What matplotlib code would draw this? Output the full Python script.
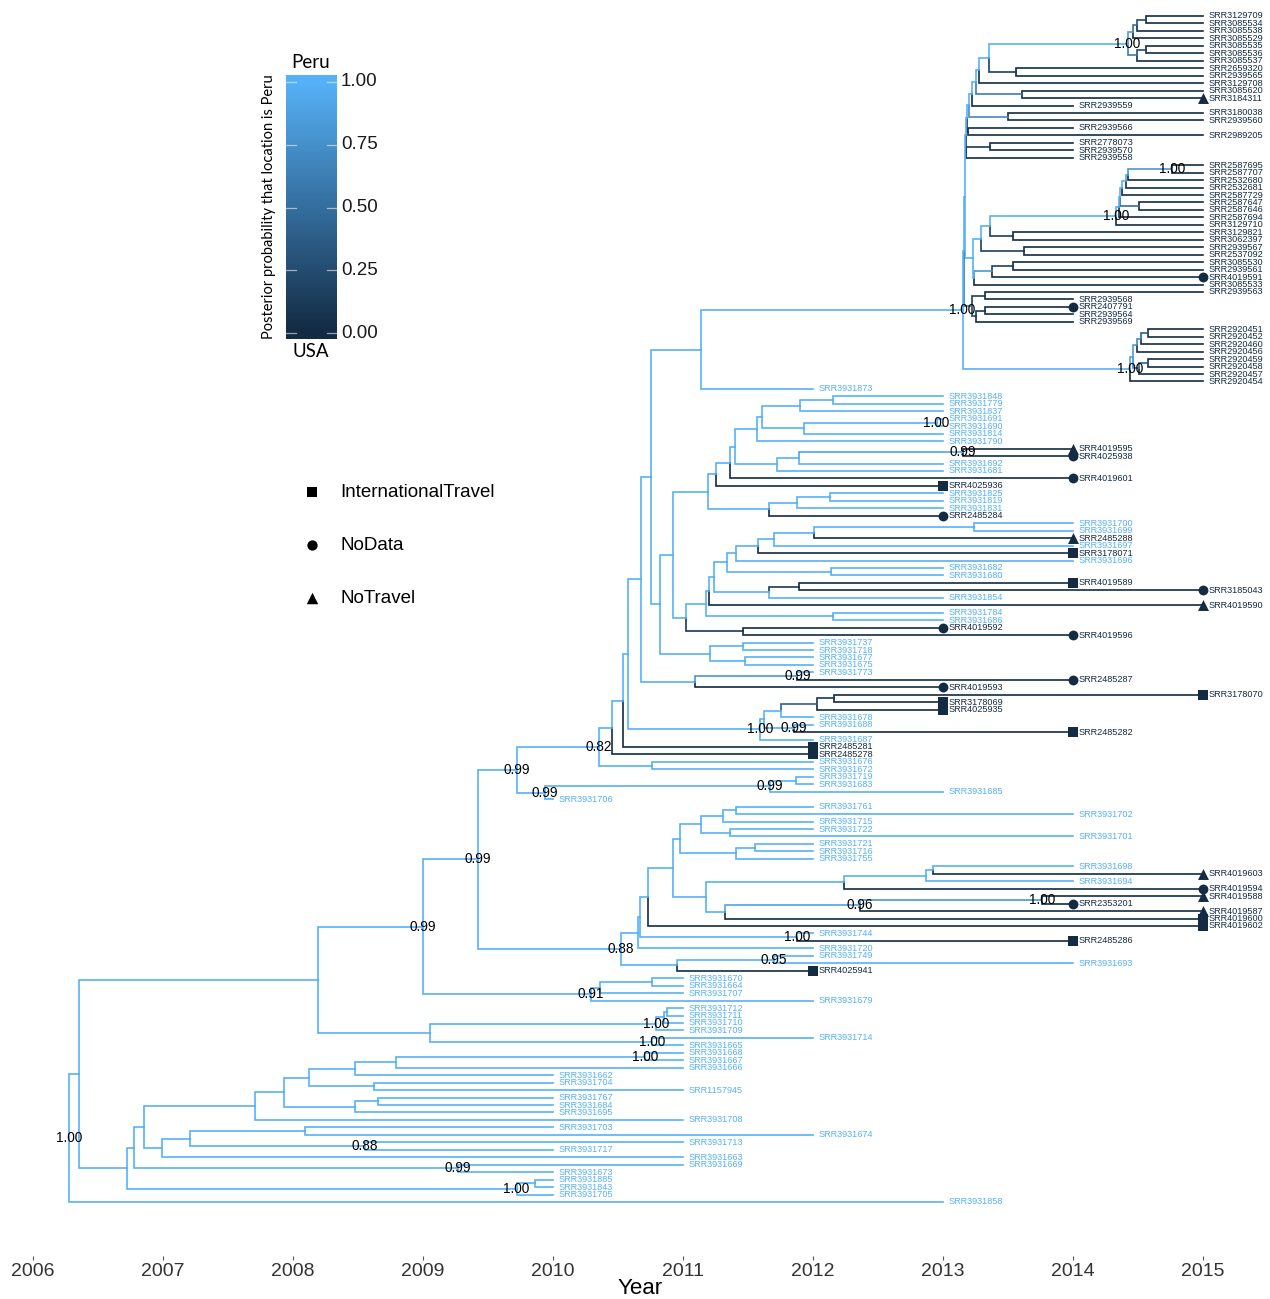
import matplotlib
matplotlib.use("Agg")
import matplotlib.pyplot as plt
from matplotlib.collections import LineCollection
from matplotlib.colors import LinearSegmentedColormap
import numpy as np

# ---------------- data ----------------
tip_labels = [
    "SRR3129709", "SRR3085534", "SRR3085538", "SRR3085529", "SRR3085535", "SRR3085536", "SRR3085537", "SRR2659320", "SRR2939565", "SRR3129708",
    "SRR3085620", "SRR3184311", "SRR2939559", "SRR3180038", "SRR2939560", "SRR2939566", "SRR2989205", "SRR2778073", "SRR2939570", "SRR2939558",
    "SRR2587695", "SRR2587707", "SRR2532680", "SRR2532681", "SRR2587729", "SRR2587647", "SRR2587646", "SRR2587694", "SRR3129710", "SRR3129821",
    "SRR3062397", "SRR2939567", "SRR2537092", "SRR3085530", "SRR2939561", "SRR4019591", "SRR3085533", "SRR2939563", "SRR2939568", "SRR2407791",
    "SRR2939564", "SRR2939569", "SRR2920451", "SRR2920452", "SRR2920460", "SRR2920456", "SRR2920459", "SRR2920458", "SRR2920457", "SRR2920454",
    "SRR3931873", "SRR3931848", "SRR3931779", "SRR3931837", "SRR3931691", "SRR3931690", "SRR3931814", "SRR3931790", "SRR4019595", "SRR4025938",
    "SRR3931692", "SRR3931681", "SRR4019601", "SRR4025936", "SRR3931825", "SRR3931819", "SRR3931831", "SRR2485284", "SRR3931700", "SRR3931699",
    "SRR2485288", "SRR3931697", "SRR3178071", "SRR3931696", "SRR3931682", "SRR3931680", "SRR4019589", "SRR3185043", "SRR3931854", "SRR4019590",
    "SRR3931784", "SRR3931686", "SRR4019592", "SRR4019596", "SRR3931737", "SRR3931718", "SRR3931677", "SRR3931675", "SRR3931773", "SRR2485287",
    "SRR4019593", "SRR3178070", "SRR3178069", "SRR4025935", "SRR3931678", "SRR3931688", "SRR2485282", "SRR3931687", "SRR2485281", "SRR2485278",
    "SRR3931676", "SRR3931672", "SRR3931719", "SRR3931683", "SRR3931685", "SRR3931706", "SRR3931761", "SRR3931702", "SRR3931715", "SRR3931722",
    "SRR3931701", "SRR3931721", "SRR3931716", "SRR3931755", "SRR3931698", "SRR4019603", "SRR3931694", "SRR4019594", "SRR4019588", "SRR2353201",
    "SRR4019587", "SRR4019600", "SRR4019602", "SRR3931744", "SRR2485286", "SRR3931720", "SRR3931749", "SRR3931693", "SRR4025941", "SRR3931670",
    "SRR3931664", "SRR3931707", "SRR3931679", "SRR3931712", "SRR3931711", "SRR3931710", "SRR3931709", "SRR3931714", "SRR3931665", "SRR3931668",
    "SRR3931667", "SRR3931666", "SRR3931662", "SRR3931704", "SRR1157945", "SRR3931767", "SRR3931684", "SRR3931695", "SRR3931708", "SRR3931703",
    "SRR3931674", "SRR3931713", "SRR3931717", "SRR3931663", "SRR3931669", "SRR3931673", "SRR3931885", "SRR3931843", "SRR3931705", "SRR3931858",
]

tip_years = [
    2015, 2015, 2015, 2015, 2015, 2015, 2015, 2015, 2015, 2015,
    2015, 2015, 2014, 2015, 2015, 2014, 2015, 2014, 2014, 2014,
    2015, 2015, 2015, 2015, 2015, 2015, 2015, 2015, 2015, 2015,
    2015, 2015, 2015, 2015, 2015, 2015, 2015, 2015, 2014, 2014,
    2014, 2014, 2015, 2015, 2015, 2015, 2015, 2015, 2015, 2015,
    2012, 2013, 2013, 2013, 2013, 2013, 2013, 2013, 2014, 2014,
    2013, 2013, 2014, 2013, 2013, 2013, 2013, 2013, 2014, 2014,
    2014, 2014, 2014, 2014, 2013, 2013, 2014, 2015, 2013, 2015,
    2013, 2013, 2013, 2014, 2012, 2012, 2012, 2012, 2012, 2014,
    2013, 2015, 2013, 2013, 2012, 2012, 2014, 2012, 2012, 2012,
    2012, 2012, 2012, 2012, 2013, 2010, 2012, 2014, 2012, 2012,
    2014, 2012, 2012, 2012, 2014, 2015, 2014, 2015, 2015, 2014,
    2015, 2015, 2015, 2012, 2014, 2012, 2012, 2014, 2012, 2011,
    2011, 2011, 2012, 2011, 2011, 2011, 2011, 2012, 2011, 2011,
    2011, 2011, 2010, 2010, 2011, 2010, 2010, 2010, 2011, 2010,
    2012, 2011, 2010, 2011, 2011, 2010, 2010, 2010, 2010, 2013,
]

# 1 = sampled in Peru, 0 = sampled in USA
tip_peru = [
    0, 0, 0, 0, 0, 0, 0, 0, 0, 0,
    0, 0, 0, 0, 0, 0, 0, 0, 0, 0,
    0, 0, 0, 0, 0, 0, 0, 0, 0, 0,
    0, 0, 0, 0, 0, 0, 0, 0, 0, 0,
    0, 0, 0, 0, 0, 0, 0, 0, 0, 0,
    1, 1, 1, 1, 1, 1, 1, 1, 0, 0,
    1, 1, 0, 0, 1, 1, 1, 0, 1, 1,
    0, 1, 0, 1, 1, 1, 0, 0, 1, 0,
    1, 1, 0, 0, 1, 1, 1, 1, 1, 0,
    0, 0, 0, 0, 1, 1, 0, 1, 0, 0,
    1, 1, 1, 1, 1, 1, 1, 1, 1, 1,
    1, 1, 1, 1, 1, 0, 1, 0, 0, 0,
    0, 0, 0, 1, 0, 1, 1, 1, 0, 1,
    1, 1, 1, 1, 1, 1, 1, 1, 1, 1,
    1, 1, 1, 1, 1, 1, 1, 1, 1, 1,
    1, 1, 1, 1, 1, 1, 1, 1, 1, 1,
]

tip_travel = {
    "SRR3184311": "NoTravel", "SRR4019591": "NoData", "SRR2407791": "NoData",
    "SRR4019595": "NoTravel", "SRR4025938": "NoData", "SRR4019601": "NoData",
    "SRR4025936": "InternationalTravel", "SRR2485284": "NoData", "SRR2485288": "NoTravel",
    "SRR3178071": "InternationalTravel", "SRR4019589": "InternationalTravel", "SRR3185043": "NoData",
    "SRR4019590": "NoTravel", "SRR4019592": "NoData", "SRR4019596": "NoData",
    "SRR2485287": "NoData", "SRR4019593": "NoData", "SRR3178070": "InternationalTravel",
    "SRR3178069": "InternationalTravel", "SRR4025935": "InternationalTravel", "SRR2485282": "InternationalTravel",
    "SRR2485281": "InternationalTravel", "SRR2485278": "InternationalTravel", "SRR4019603": "NoTravel",
    "SRR4019594": "NoData", "SRR4019588": "NoTravel", "SRR2353201": "NoData",
    "SRR4019587": "NoTravel", "SRR4019600": "InternationalTravel", "SRR4019602": "InternationalTravel",
    "SRR2485286": "InternationalTravel", "SRR4025941": "InternationalTravel",
}

# tree topology: internal node -> (child, child)
clade_children = {
    # top (USA) clade
    "CI": ("SRR3129709", "SRR3085534"), "CJ": ("CI", "SRR3085538"), "CK": ("CJ", "SRR3085529"),
    "CL": ("SRR3085535", "SRR3085536"), "CM": ("CL", "SRR3085537"), "CN": ("CK", "CM"),
    "CO": ("SRR2659320", "SRR2939565"), "CP": ("CN", "CO"), "CQ": ("CP", "SRR3129708"),
    "CR": ("SRR3085620", "SRR3184311"), "CS": ("CQ", "CR"), "CT": ("CS", "SRR2939559"),
    "CU": ("SRR3180038", "SRR2939560"), "CV": ("CT", "CU"), "CX": ("SRR2939566", "SRR2989205"),
    "CY": ("CV", "CX"), "CZ": ("SRR2778073", "SRR2939570"), "DAp": ("CZ", "SRR2939558"),
    "EH": ("CY", "DAp"),
    "DN": ("SRR2587695", "SRR2587707"), "DQ": ("DN", "SRR2532680"), "DR": ("DQ", "SRR2532681"),
    "DT": ("DR", "SRR2587729"), "DS": ("SRR2587647", "SRR2587646"), "DU": ("DT", "DS"),
    "DX": ("DU", "SRR2587694"), "DV": ("DX", "SRR3129710"), "DY": ("SRR3129821", "SRR3062397"),
    "DZ": ("DV", "DY"), "EA": ("SRR2939567", "SRR2537092"), "EB": ("DZ", "EA"),
    "EC": ("SRR3085530", "SRR2939561"), "ED": ("EC", "SRR4019591"), "EE": ("ED", "SRR3085533"),
    "EF": ("EB", "EE"), "X2": ("EH", "EF"),
    "DJ": ("SRR2939563", "SRR2939568"), "DK": ("SRR2407791", "SRR2939564"), "DL": ("DK", "SRR2939569"),
    "DM": ("DJ", "DL"), "Z2": ("X2", "DM"),
    "DB": ("SRR2920451", "SRR2920452"), "DC": ("DB", "SRR2920460"), "DD": ("DC", "SRR2920456"),
    "DE": ("SRR2920459", "SRR2920458"), "DF": ("DE", "SRR2920457"), "DG": ("DD", "DF"),
    "DH": ("DG", "SRR2920454"), "TOP": ("Z2", "DH"), "AU": ("TOP", "SRR3931873"),
    # middle clade
    "BG": ("SRR3931848", "SRR3931779"), "BH": ("BG", "SRR3931837"), "BI": ("SRR3931691", "SRR3931690"),
    "BJ": ("BI", "SRR3931814"), "BK": ("BH", "BJ"), "BL": ("BK", "SRR3931790"),
    "BM": ("SRR4019595", "SRR4025938"), "BN": ("BM", "SRR3931692"), "BO": ("BN", "SRR3931681"),
    "BP": ("BL", "BO"), "BQ": ("BP", "SRR4019601"), "BE": ("BQ", "SRR4025936"),
    "BR": ("SRR3931825", "SRR3931819"), "BS": ("BR", "SRR3931831"), "BF": ("BS", "SRR2485284"),
    "BC": ("BE", "BF"),
    "BW": ("SRR3931700", "SRR3931699"), "BX": ("BW", "SRR2485288"), "BY": ("BX", "SRR3931697"),
    "BZ": ("BY", "SRR3178071"), "CA": ("BZ", "SRR3931696"), "CB": ("SRR3931682", "SRR3931680"),
    "CC": ("CA", "CB"), "CD": ("SRR4019589", "SRR3185043"), "CE": ("CD", "SRR3931854"),
    "CF": ("CC", "CE"), "CG": ("CF", "SRR4019590"), "BV": ("SRR3931784", "SRR3931686"),
    "CH": ("CG", "BV"), "BT": ("SRR4019592", "SRR4019596"), "BD": ("CH", "BT"),
    "AY": ("BC", "BD"), "BA": ("SRR3931737", "SRR3931718"), "BB": ("SRR3931677", "SRR3931675"),
    "AZ": ("BA", "BB"), "AV": ("AY", "AZ"), "AT": ("AU", "AV"),
    "AX": ("SRR3931773", "SRR2485287"), "AW": ("AX", "SRR4019593"), "AN": ("AT", "AW"),
    "AP": ("SRR3178070", "SRR3178069"), "AQ": ("AP", "SRR4025935"), "AO": ("AQ", "SRR3931678"),
    "AR": ("SRR3931688", "SRR2485282"), "AMi": ("AO", "AR"), "AM": ("AMi", "SRR3931687"),
    "AL": ("AN", "AM"), "AK": ("AL", "SRR2485281"), "AI": ("AK", "SRR2485278"),
    "AJ": ("SRR3931676", "SRR3931672"), "N082": ("AI", "AJ"),
    "AH": ("SRR3931719", "SRR3931683"), "AG": ("AH", "SRR3931685"), "AF": ("AG", "SRR3931706"),
    "N099a": ("N082", "AF"),
    # lower clade
    "EJ": ("SRR3931761", "SRR3931702"), "EL": ("EJ", "SRR3931715"), "EK": ("SRR3931722", "SRR3931701"),
    "EM": ("EL", "EK"), "EN": ("SRR3931721", "SRR3931716"), "EO": ("EN", "SRR3931755"),
    "EY": ("EM", "EO"), "EQ": ("SRR3931698", "SRR4019603"), "ER": ("EQ", "SRR3931694"),
    "ES": ("ER", "SRR4019594"), "ET": ("SRR4019588", "SRR2353201"), "EU": ("ET", "SRR4019587"),
    "EV": ("EU", "SRR4019600"), "EW": ("ES", "EV"), "EX": ("EY", "EW"),
    "EZ": ("EX", "SRR4019602"), "AE": ("SRR3931744", "SRR2485286"), "FA": ("EZ", "AE"),
    "FC": ("FA", "SRR3931720"), "AD": ("SRR3931749", "SRR3931693"), "F095": ("AD", "SRR4025941"),
    "N088": ("FC", "F095"), "DA": ("N099a", "N088"),
    "N652": ("SRR3931670", "SRR3931664"), "N600": ("N652", "SRR3931707"), "N091": ("N600", "SRR3931679"),
    "D": ("DA", "N091"),
    "Hi": ("SRR3931712", "SRR3931711"), "H": ("Hi", "SRR3931710"), "F": ("H", "SRR3931709"),
    "J": ("SRR3931714", "SRR3931665"), "E": ("F", "J"), "B": ("D", "E"),
    "L": ("SRR3931668", "SRR3931667"), "K": ("L", "SRR3931666"), "Q": ("K", "SRR3931662"),
    "S": ("SRR3931704", "SRR1157945"), "T": ("Q", "S"), "V": ("SRR3931767", "SRR3931684"),
    "U": ("V", "SRR3931695"), "W": ("T", "U"), "X": ("W", "SRR3931708"),
    "AA": ("SRR3931703", "SRR3931674"), "AB": ("SRR3931713", "SRR3931717"), "Z": ("AA", "AB"),
    "Y1": ("Z", "SRR3931663"), "Y0": ("X", "Y1"), "P": ("SRR3931669", "SRR3931673"),
    "Y": ("Y0", "P"), "N": ("SRR3931885", "SRR3931843"), "M": ("N", "SRR3931705"),
    "C": ("Y", "M"), "A": ("B", "C"), "R": ("A", "SRR3931858"),
}

# node ages (decimal years)
node_year = {
    "R": 2006.28, "A": 2006.35, "B": 2008.19, "C": 2006.72, "D": 2009.00, "E": 2009.05,
    "F": 2010.79, "H": 2010.85, "Hi": 2010.88, "J": 2010.76, "K": 2008.79, "L": 2010.71,
    "Q": 2008.48, "S": 2008.62, "T": 2008.12, "V": 2008.65, "U": 2008.48, "W": 2007.93,
    "X": 2007.71, "AA": 2008.09, "AB": 2008.55, "Z": 2007.21, "Y1": 2006.99, "Y0": 2006.85,
    "P": 2009.27, "Y": 2006.78, "N": 2009.86, "M": 2009.72, "DA": 2009.42, "N091": 2010.29,
    "N600": 2010.36, "N652": 2010.76, "N099a": 2009.72, "N088": 2010.52, "N082": 2010.35,
    "AF": 2009.94, "AG": 2011.67, "AH": 2011.87, "AI": 2010.45, "AJ": 2010.76, "AK": 2010.54,
    "AL": 2010.58, "AM": 2011.59, "AMi": 2011.62, "AO": 2011.75, "AQ": 2012.03, "AP": 2012.16,
    "AR": 2011.85, "AN": 2010.68, "AT": 2010.75, "AU": 2011.14, "AV": 2010.82, "AW": 2011.09,
    "AX": 2011.88, "AY": 2010.92, "AZ": 2011.21, "BA": 2011.46, "BB": 2011.48, "BC": 2011.19,
    "BD": 2011.02, "BE": 2011.25, "BF": 2011.66, "BQ": 2011.36, "BP": 2011.40, "BL": 2011.57,
    "BK": 2011.61, "BH": 2011.90, "BG": 2012.15, "BJ": 2011.93, "BI": 2012.95, "BO": 2011.72,
    "BN": 2011.89, "BM": 2013.15, "BS": 2011.88, "BR": 2012.13, "CH": 2011.18, "CG": 2011.20,
    "CF": 2011.24, "CC": 2011.34, "CA": 2011.41, "BZ": 2011.58, "BY": 2011.70, "BX": 2012.01,
    "BW": 2013.24, "CB": 2012.14, "CE": 2011.66, "CD": 2011.89, "BV": 2012.15, "BT": 2011.46,
    "FC": 2010.65, "FA": 2010.67, "EZ": 2010.73, "EX": 2010.92, "EY": 2010.98, "EM": 2011.14,
    "EL": 2011.31, "EJ": 2011.41, "EK": 2011.36, "EO": 2011.41, "EN": 2011.55, "EW": 2011.18,
    "ES": 2012.24, "ER": 2012.87, "EQ": 2012.92, "EV": 2011.32, "EU": 2012.36, "ET": 2013.76,
    "AE": 2011.88, "F095": 2010.95, "AD": 2011.70,
    "TOP": 2013.15, "Z2": 2013.16, "X2": 2013.17, "EH": 2013.175, "CY": 2013.185, "CV": 2013.20,
    "CT": 2013.22, "CS": 2013.25, "CQ": 2013.28, "CP": 2013.35, "CN": 2014.42, "CK": 2014.46,
    "CJ": 2014.49, "CI": 2014.56, "CM": 2014.49, "CL": 2014.56, "CO": 2013.56, "CR": 2013.61,
    "CU": 2013.50, "CX": 2013.19, "CZ": 2013.36, "DAp": 2013.18, "EF": 2013.23, "EB": 2013.29,
    "DZ": 2013.36, "DV": 2014.33, "DX": 2014.35, "DU": 2014.36, "DT": 2014.38, "DR": 2014.41,
    "DQ": 2014.42, "DN": 2014.76, "DS": 2014.51, "DY": 2013.54, "EA": 2013.62, "EE": 2013.24,
    "ED": 2013.38, "EC": 2013.54, "DM": 2013.22, "DJ": 2013.32, "DL": 2013.25, "DK": 2013.32,
    "DH": 2014.44, "DG": 2014.46, "DD": 2014.49, "DC": 2014.52, "DB": 2014.58, "DF": 2014.51,
    "DE": 2014.58,
}

# posterior probability that the location is Peru (nodes not listed: 1.0)
node_prob = {
    "CI": 0.25, "CJ": 0.5, "CK": 0.85, "CL": 0.25, "CM": 0.6, "CO": 0.15, "CR": 0.6,
    "CU": 0.7, "CX": 0.1, "CZ": 0.1, "DAp": 0.15, "DN": 0.8, "DQ": 0.9, "DS": 0.5,
    "DY": 0.15, "EA": 0.15, "EC": 0.15, "ED": 0.8, "DJ": 0.15, "DK": 0.1, "DL": 0.2,
    "DM": 0.6, "DB": 0.4, "DE": 0.4, "DC": 0.7, "DF": 0.7, "DD": 0.85, "DG": 0.9,
    "BM": 0.9, "CD": 0.1, "BT": 0.1, "AP": 0.1, "AQ": 0.4, "AX": 0.8,
    "ET": 0.8, "EU": 0.9,
}

# clade posterior support shown on the tree
node_support = {
    "CN": 1.00, "DN": 1.00, "DV": 1.00, "TOP": 1.00, "DH": 1.00, "BI": 1.00, "BM": 0.99,
    "AX": 0.99, "AM": 1.00, "AR": 0.99, "N082": 0.82, "N099a": 0.99, "AG": 0.99, "AF": 0.99,
    "DA": 0.99, "EU": 0.96, "ET": 1.00, "AE": 1.00, "D": 0.99, "N088": 0.88, "AD": 0.95,
    "N091": 0.91, "F": 1.00, "J": 1.00, "L": 1.00, "AB": 0.88, "P": 0.99, "M": 1.00, "R": 1.00,
}

year_ticks = list(range(2006, 2016))
cbar_ticks = [0.0, 0.25, 0.5, 0.75, 1.0]
travel_levels = ["InternationalTravel", "NoData", "NoTravel"]

# ---------------- drawing ----------------
cmap = LinearSegmentedColormap.from_list("peru", ["#132B43", "#56B1F7"])


def col(v):
    return cmap(float(v))


SANS = ["Liberation Sans", "DejaVu Sans"]
NARROW = ["Liberation Sans Narrow", "Liberation Sans", "DejaVu Sans"]
SOFT = ["Lato", "Liberation Sans", "DejaVu Sans"]
marker_of = {"InternationalTravel": "s", "NoData": "o", "NoTravel": "^"}
msize = {"InternationalTravel": 44, "NoData": 50, "NoTravel": 62}

W, H = 1270, 1299
fig = plt.figure(figsize=(W / 100, H / 100), dpi=100, facecolor="white")
ax = fig.add_axes([0, 43 / H, 1, 1256 / H])

year = dict(zip(tip_labels, tip_years))
year.update(node_year)
prob = {lab: float(p) for lab, p in zip(tip_labels, tip_peru)}
for n in clade_children:
    prob[n] = float(node_prob.get(n, 1.0))

ypos = {}
counter = [0]


def place(n):
    if n in clade_children:
        ys = [place(c) for c in clade_children[n]]
        ypos[n] = sum(ys) / len(ys)
    else:
        ypos[n] = counter[0]
        counter[0] += 1
    return ypos[n]


place("R")

segs, cols = [], []
for p, kids in clade_children.items():
    for c in kids:
        segs.append([(year[p], ypos[p]), (year[p], ypos[c]), (year[c], ypos[c])])
        cols.append(col(prob[c]))
ax.add_collection(LineCollection(segs, colors=cols, linewidths=1.2,
                                 capstyle="projecting", joinstyle="miter", zorder=1))

for lab in tip_labels:
    ax.text(year[lab] + 0.045, ypos[lab], lab, fontsize=6.6, family=SANS,
            color=col(prob[lab]), ha="left", va="center", zorder=3)

for lab, kind in tip_travel.items():
    ax.scatter([year[lab]], [ypos[lab]], marker=marker_of[kind], s=msize[kind],
               color=col(prob[lab]), linewidths=0, zorder=4)

for n, v in node_support.items():
    ax.text(year[n], ypos[n], f"{v:.2f}", fontsize=9.8, family=SANS, color="black",
            ha="center", va="center", zorder=5)

ax.set_xlim(2006 - 33 / 130, 2006 + (W - 33) / 130)
ax.set_ylim(-2.145 + 1256 / 7.459, -2.145)
ax.set_xticks(year_ticks)
ax.set_xticklabels([str(t) for t in year_ticks], family=NARROW, fontsize=14, color="#333333")
ax.tick_params(axis="x", length=3, width=0.8, color="#555555", pad=2)
ax.set_yticks([])
for sp in ax.spines.values():
    sp.set_visible(False)
ax.patch.set_alpha(0)

fig.text(640 / W, 1 - 1289 / H, "Year", ha="center", va="center", fontsize=16,
         family=NARROW, color="black")

# colour bar
cb_top, cb_bot = 75, 339
v_lo = (cb_bot - 333) / -251.0
v_hi = (333 - cb_top) / 251.0
cax = fig.add_axes([286 / W, 1 - cb_bot / H, 51 / W, (cb_bot - cb_top) / H])
grad = np.clip(np.linspace(v_lo, v_hi, 400), 0, 1).reshape(-1, 1)
cax.imshow(grad, cmap=cmap, vmin=0, vmax=1, aspect="auto", origin="lower",
           extent=[0, 1, v_lo, v_hi])
for v in cbar_ticks:
    cax.plot([0, 0.2], [v, v], color="white", lw=0.9, alpha=0.55)
    cax.plot([0.8, 1], [v, v], color="white", lw=0.9, alpha=0.55)
cax.set_xlim(0, 1)
cax.set_ylim(v_lo, v_hi)
cax.axis("off")

for v in cbar_ticks:
    fig.text(341 / W, 1 - (333 - 251 * v) / H, f"{v:.2f}", ha="left", va="center",
             fontsize=13.5, family=SANS, color="#1a1a1a")
fig.text(311 / W, 1 - 62 / H, "Peru", ha="center", va="center", fontsize=13.5, family=SOFT)
fig.text(311 / W, 1 - 351 / H, "USA", ha="center", va="center", fontsize=13.5, family=SOFT)
fig.text(269 / W, 1 - 207 / H, "Posterior probability that location is Peru", rotation=90,
         ha="center", va="center", fontsize=10.5, family=SOFT)

# shape legend
lay = fig.add_axes([0, 0, 1, 1])
lay.set_xlim(0, W)
lay.set_ylim(H, 0)
lay.axis("off")
lay.patch.set_alpha(0)
for i, kind in enumerate(travel_levels):
    yy = 492 + 53 * i
    lay.scatter([312], [yy], marker=marker_of[kind], s=msize[kind] * 1.1, color="black", linewidths=0)
    lay.text(340, yy, kind, ha="left", va="center", fontsize=13.5, family=SANS, color="black")

fig.savefig("out.png", dpi=100, facecolor="white")
